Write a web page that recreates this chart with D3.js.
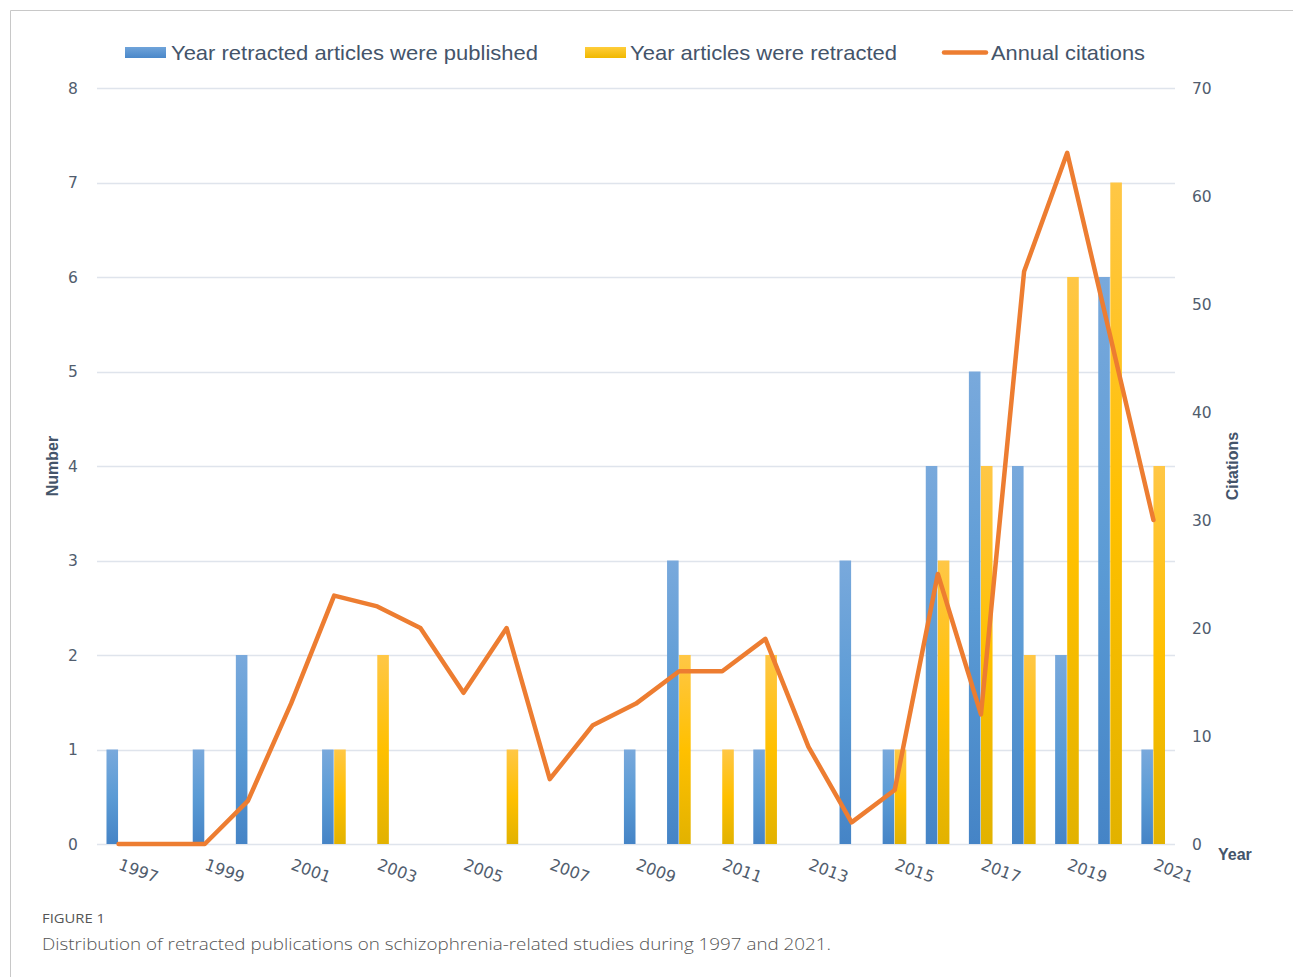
<!DOCTYPE html>
<html><head><meta charset="utf-8">
<script src="https://cdn.jsdelivr.net/npm/d3@7"></script>
<style>
html,body{margin:0;padding:0;background:#fff;}
svg{display:block;}
</style></head>
<body>
<svg id="chart" width="1293" height="977"></svg>
<script>
const years = [1997,1998,1999,2000,2001,2002,2003,2004,2005,2006,2007,2008,2009,2010,2011,2012,2013,2014,2015,2016,2017,2018,2019,2020,2021];
const published = [1,0,1,2,0,1,0,0,0,0,0,0,1,3,0,1,0,3,1,4,5,4,2,6,1];
const retracted = [0,0,0,0,0,1,2,0,0,1,0,0,0,2,1,2,0,0,1,3,4,2,6,7,4];
const citations = [0,0,0,4,13,23,22,20,14,20,6,11,13,16,16,19,9,2,5,25,12,53,64,47,30];
const leftTicks = [0,1,2,3,4,5,6,7,8];
const rightTicks = [0,10,20,30,40,50,60,70];
const xLabelYears = [1997,1999,2001,2003,2005,2007,2009,2011,2013,2015,2017,2019,2021];
const seriesNames = ["Year retracted articles were published","Year articles were retracted","Annual citations"];

const svg = d3.select("#chart");
const W = 1293, H = 977;
const L = 97, R = 1175, T = 88, B = 844;
const tickColor = "#515d6e";

// frame
svg.append("path").attr("d",`M10.5,${H} L10.5,10.5 L${W},10.5`).attr("fill","none").attr("stroke","#c8c8c8").attr("stroke-width",1);

const defs = svg.append("defs");
const gb = defs.append("linearGradient").attr("id","gBlue").attr("x1",0).attr("y1",0).attr("x2",0).attr("y2",1);
gb.append("stop").attr("offset","0%").attr("stop-color","#79a9dc");
gb.append("stop").attr("offset","50%").attr("stop-color","#5b9bd5");
gb.append("stop").attr("offset","100%").attr("stop-color","#4584c6");
const gy = defs.append("linearGradient").attr("id","gYellow").attr("x1",0).attr("y1",0).attr("x2",0).attr("y2",1);
gy.append("stop").attr("offset","0%").attr("stop-color","#ffc746");
gy.append("stop").attr("offset","50%").attr("stop-color","#ffc000");
gy.append("stop").attr("offset","100%").attr("stop-color","#e2b200");
const gbL = defs.append("linearGradient").attr("id","gBlueL").attr("x1",0).attr("y1",0).attr("x2",0).attr("y2",1);
gbL.append("stop").attr("offset","0%").attr("stop-color","#6fa3da");
gbL.append("stop").attr("offset","100%").attr("stop-color","#4a88c9");
const gyL = defs.append("linearGradient").attr("id","gYellowL").attr("x1",0).attr("y1",0).attr("x2",0).attr("y2",1);
gyL.append("stop").attr("offset","0%").attr("stop-color","#ffcd3a");
gyL.append("stop").attr("offset","100%").attr("stop-color","#f0b800");

const x = d3.scaleBand().domain(years).range([L,R]).paddingInner(0.44).paddingOuter(0.22);
const xs = d3.scaleBand().domain(["p","r"]).range([0,x.bandwidth()]);
const yL = d3.scaleLinear().domain([0,8]).range([B,T]);
const yR = d3.scaleLinear().domain([0,70]).range([B,T]);

// gridlines
svg.append("g").selectAll("line").data(leftTicks).join("line")
  .attr("x1",L).attr("x2",R).attr("y1",d=>Math.round(yL(d))+0.5).attr("y2",d=>Math.round(yL(d))+0.5)
  .attr("stroke","#dfe4ec").attr("stroke-width",1.3);

// left axis
const axL = svg.append("g").attr("transform",`translate(${L-16},0)`)
  .call(d3.axisLeft(yL).tickValues(leftTicks).tickSize(0).tickPadding(0));
axL.select(".domain").remove();
axL.selectAll("text").attr("font-family","DejaVu Sans").attr("font-size",15.5).attr("fill",tickColor).attr("text-anchor","middle").attr("dx",-8).attr("dy","0.35em");

const axR = svg.append("g").attr("transform",`translate(${R+17},0)`)
  .call(d3.axisRight(yR).tickValues(rightTicks).tickSize(0).tickPadding(0));
axR.select(".domain").remove();
axR.selectAll("text").attr("font-family","DejaVu Sans").attr("font-size",15.5).attr("fill",tickColor).attr("dy","0.35em");

// bars
const data = years.map((yr,i)=>({yr, p:published[i], r:retracted[i], c:citations[i]}));
const g = svg.append("g");
g.selectAll("rect.p").data(data.filter(d=>d.p>0)).join("rect").attr("class","p")
  .attr("x",d=>x(d.yr)+xs("p")).attr("width",xs.bandwidth()-0.5)
  .attr("y",d=>yL(d.p)).attr("height",d=>yL(0)-yL(d.p)).attr("fill","url(#gBlue)");
g.selectAll("rect.r").data(data.filter(d=>d.r>0)).join("rect").attr("class","r")
  .attr("x",d=>x(d.yr)+xs("r")).attr("width",xs.bandwidth()-0.5)
  .attr("y",d=>yL(d.r)).attr("height",d=>yL(0)-yL(d.r)).attr("fill","url(#gYellow)");

// line
const line = d3.line().x(d=>x(d.yr)+x.bandwidth()/2).y(d=>yR(d.c));
svg.append("path").datum(data).attr("d",line).attr("fill","none").attr("stroke","#ed7d31")
  .attr("stroke-width",4.5).attr("stroke-linejoin","round").attr("stroke-linecap","round");

// x labels
svg.append("g").selectAll("text").data(xLabelYears).join("text")
  .attr("transform",d=>`translate(${x(d)+x.bandwidth()/2-1},${869}) rotate(20)`)
  .attr("font-family","DejaVu Sans").attr("font-size",16).attr("fill",tickColor).text(d=>d);

// axis titles
svg.append("text").attr("transform",`translate(58,466) rotate(-90)`).attr("text-anchor","middle")
  .attr("font-family","Liberation Sans Narrow, Liberation Sans").attr("font-weight","bold").attr("font-size",16).attr("fill","#44546a").text("Number");
svg.append("text").attr("transform",`translate(1238,466) rotate(-90)`).attr("text-anchor","middle")
  .attr("font-family","Liberation Sans Narrow, Liberation Sans").attr("font-weight","bold").attr("font-size",16).attr("fill","#44546a").text("Citations");
svg.append("text").attr("x",1218).attr("y",860)
  .attr("font-family","Liberation Sans Narrow, Liberation Sans").attr("font-weight","bold").attr("font-size",16).attr("fill","#44546a").text("Year");

// legend
const lg = svg.append("g");
lg.append("rect").attr("x",125).attr("y",47).attr("width",41).attr("height",11).attr("fill","url(#gBlueL)");
lg.append("rect").attr("x",585).attr("y",47).attr("width",41).attr("height",11).attr("fill","url(#gYellowL)");
lg.append("line").attr("x1",944).attr("x2",986).attr("y1",52.5).attr("y2",52.5).attr("stroke","#ed7d31").attr("stroke-width",4.5).attr("stroke-linecap","round");
const lt = [[171,367],[630,267],[991,154]];
lg.selectAll("text").data(seriesNames).join("text")
  .attr("x",(d,i)=>lt[i][0]).attr("y",60).attr("textLength",(d,i)=>lt[i][1]).attr("lengthAdjust","spacingAndGlyphs")
  .attr("font-family","Liberation Sans Narrow, Liberation Sans").attr("font-size",21).attr("fill","#44546a").text(d=>d);

// caption
svg.append("text").attr("x",42).attr("y",923).attr("font-family","Open Sans").attr("font-size",12.5).attr("fill","#555")
  .attr("textLength",63).attr("lengthAdjust","spacingAndGlyphs").text("FIGURE 1");
svg.append("text").attr("x",42).attr("y",950).attr("font-family","Open Sans").attr("font-weight",300).attr("font-size",16.5).attr("fill","#555")
  .attr("textLength",789).attr("lengthAdjust","spacingAndGlyphs").text("Distribution of retracted publications on schizophrenia-related studies during 1997 and 2021.");
</script>
</body></html>
